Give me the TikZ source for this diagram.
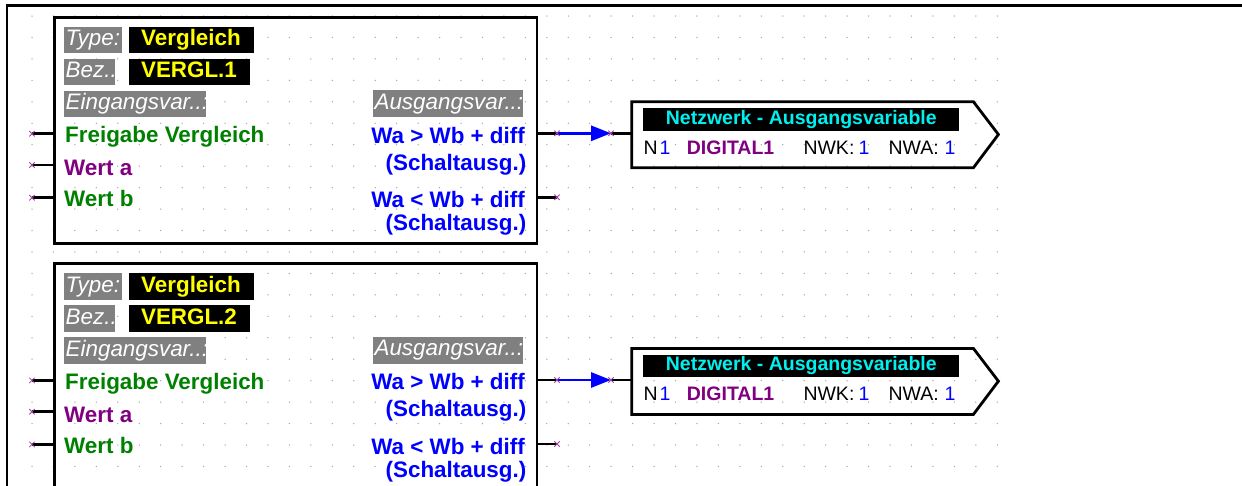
\documentclass[tikz,border=0pt]{standalone}
\usepackage{fontspec}
\setmainfont{Liberation Sans}
\usetikzlibrary{arrows.meta}
\definecolor{tagrey}{HTML}{808080}
\definecolor{tagreen}{HTML}{008000}
\definecolor{tapurple}{HTML}{800080}
\definecolor{tablue}{HTML}{0000FF}
\definecolor{tayellow}{HTML}{FFFF00}
\definecolor{tacyan}{HTML}{00F0F0}
\definecolor{tadot}{HTML}{A8A8A8}
\definecolor{tapin}{HTML}{A040A0}
\newcommand{\blkfont}{\fontsize{22.4}{26}\selectfont}
\newcommand{\netfont}{\fontsize{19.5}{22}\selectfont}
\newcommand{\pinmark}[1]{\draw[tapin,line width=0.8pt] (#1) +(-2.7,-2.7) -- +(2.7,2.7) +(-2.7,2.7) -- +(2.7,-2.7);}
\begin{document}
\begin{tikzpicture}[x=1pt,y=-1pt,
  blockbox/.style={draw=black,line width=2.8pt,minimum width=482.5pt,minimum height=226pt,inner sep=0pt,anchor=north west},
  greytag/.style={fill=tagrey,text=white,font=\blkfont\itshape,inner xsep=1.5pt,inner ysep=0pt,minimum height=26.6pt,text height=16pt,text depth=5pt},
  blacktag/.style={fill=black,text=tayellow,font=\blkfont\bfseries,inner sep=0pt,minimum height=26.6pt,text height=16pt,text depth=5pt,anchor=west},
  invar/.style={font=\blkfont\bfseries,anchor=base west,inner sep=0pt},
  outvar/.style={font=\blkfont\bfseries,text=tablue,anchor=base east,inner sep=0pt},
  netline/.style={font=\netfont,anchor=base west,inner sep=0pt},
  stub/.style={line width=2.8pt}]
\useasboundingbox (0,0) rectangle (1242,485);
\clip (0,0) rectangle (1242,485);
% grid of the sheet
\foreach \i in {0,...,45}
  \foreach \j in {0,...,21}
    \fill[tadot] (32+21.45*\i,16+21.45*\j) circle (0.75);
\draw[line width=2.6pt] (7,495) -- (7,5.3) -- (1250,5.3);
% two comparator blocks, each with its network output
\foreach \n/\dy in {1/0,2/246.7}{
  \begin{scope}[shift={(0,\dy)}]
  \node[blockbox] (blk\n) at (53,15.7) {};
  \node[greytag,anchor=west] (type\n) at (64,40) {\makebox[55pt][l]{Type:}};
  \node[blacktag,minimum width=125pt] (tval\n) at (128.3,40) {Vergleich};
  \node[greytag,anchor=west] (bez\n) at (64,72) {\makebox[48pt][l]{Bez..:}};
  \node[blacktag,minimum width=121pt] (bval\n) at (128.3,72) {VERGL.\n};
  \node[greytag,anchor=west] (ein\n) at (64,104) {\makebox[138.7pt][l]{Eingangsvar..:}};
  \node[greytag,anchor=east] (aus\n) at (522.7,103.7) {\makebox[146.4pt][l]{Ausgangsvar..:}};
  \node[invar,text=tagreen] (frg\n) at (65,142.7) {Freigabe Vergleich};
  \node[invar,text=tapurple] (wa\n) at (64,175.5) {Wert a};
  \node[invar,text=tagreen] (wb\n) at (64,206.7) {Wert b};
  \node[outvar] (gt\n) at (525,143) {Wa > Wb + diff};
  \node[outvar] (gts\n) at (526.5,170) {(Schaltausg.)};
  \node[outvar] (lt\n) at (525,207.5) {Wa < Wb + diff};
  \node[outvar] (lts\n) at (526.5,230.5) {(Schaltausg.)};
  % pins
  \coordinate (ia\n) at (32,133.7);
  \coordinate (ib\n) at (32,165);
  \coordinate (ic\n) at (32,197.7);
  \coordinate (oa\n) at (557,133.3);
  \coordinate (ob\n) at (557,197.3);
  \coordinate (pa\n) at (611,133.3);
  \draw[stub] (ia\n) -- (ia\n -| blk\n.west);
  \draw[stub] (ib\n) -- (ib\n -| blk\n.west);
  \draw[stub] (ic\n) -- (ic\n -| blk\n.west);
  \draw[stub] (oa\n -| blk\n.east) -- (oa\n);
  \draw[stub] (ob\n -| blk\n.east) -- (ob\n);
  % network output
  \node[minimum width=341.3pt,minimum height=65.6pt,inner sep=0pt,anchor=north west] (net\n) at (631.7,101.7) {};
  \draw[line width=2.8pt] (net\n.north west) -- (net\n.north east) -- ++(25,32.8) -- (net\n.south east) -- (net\n.south west) -- cycle;
  \node[fill=black,text=tacyan,font=\netfont\bfseries,minimum width=316pt,minimum height=22.4pt,inner sep=0pt,text height=13.5pt,text depth=4pt] (nh\n) at (801.3,119.5) {Netzwerk - Ausgangsvariable};
  \node[netline] (nn\n) at (643.3,154) {N};
  \node[netline,text=tablue] (nnv\n) at (659.3,154) {1};
  \node[netline,text=tapurple,font=\netfont\bfseries] (dig\n) at (686.7,154) {DIGITAL1};
  \node[netline] (nwk\n) at (803.3,154) {NWK:};
  \node[netline,text=tablue] (nwkv\n) at (858.3,154) {1};
  \node[netline] (nwa\n) at (888.3,154) {NWA:};
  \node[netline,text=tablue] (nwav\n) at (944.3,154) {1};
  \draw[tablue,line width=2.8pt,-{Triangle[length=20pt,width=15pt]}] (oa\n) -- (pa\n);
  \draw[stub] (pa\n) -- (pa\n -| net\n.west);
  \pinmark{ia\n} \pinmark{ib\n} \pinmark{ic\n}
  \pinmark{oa\n} \pinmark{ob\n} \pinmark{pa\n}
  \end{scope}
}
\end{tikzpicture}
\end{document}
